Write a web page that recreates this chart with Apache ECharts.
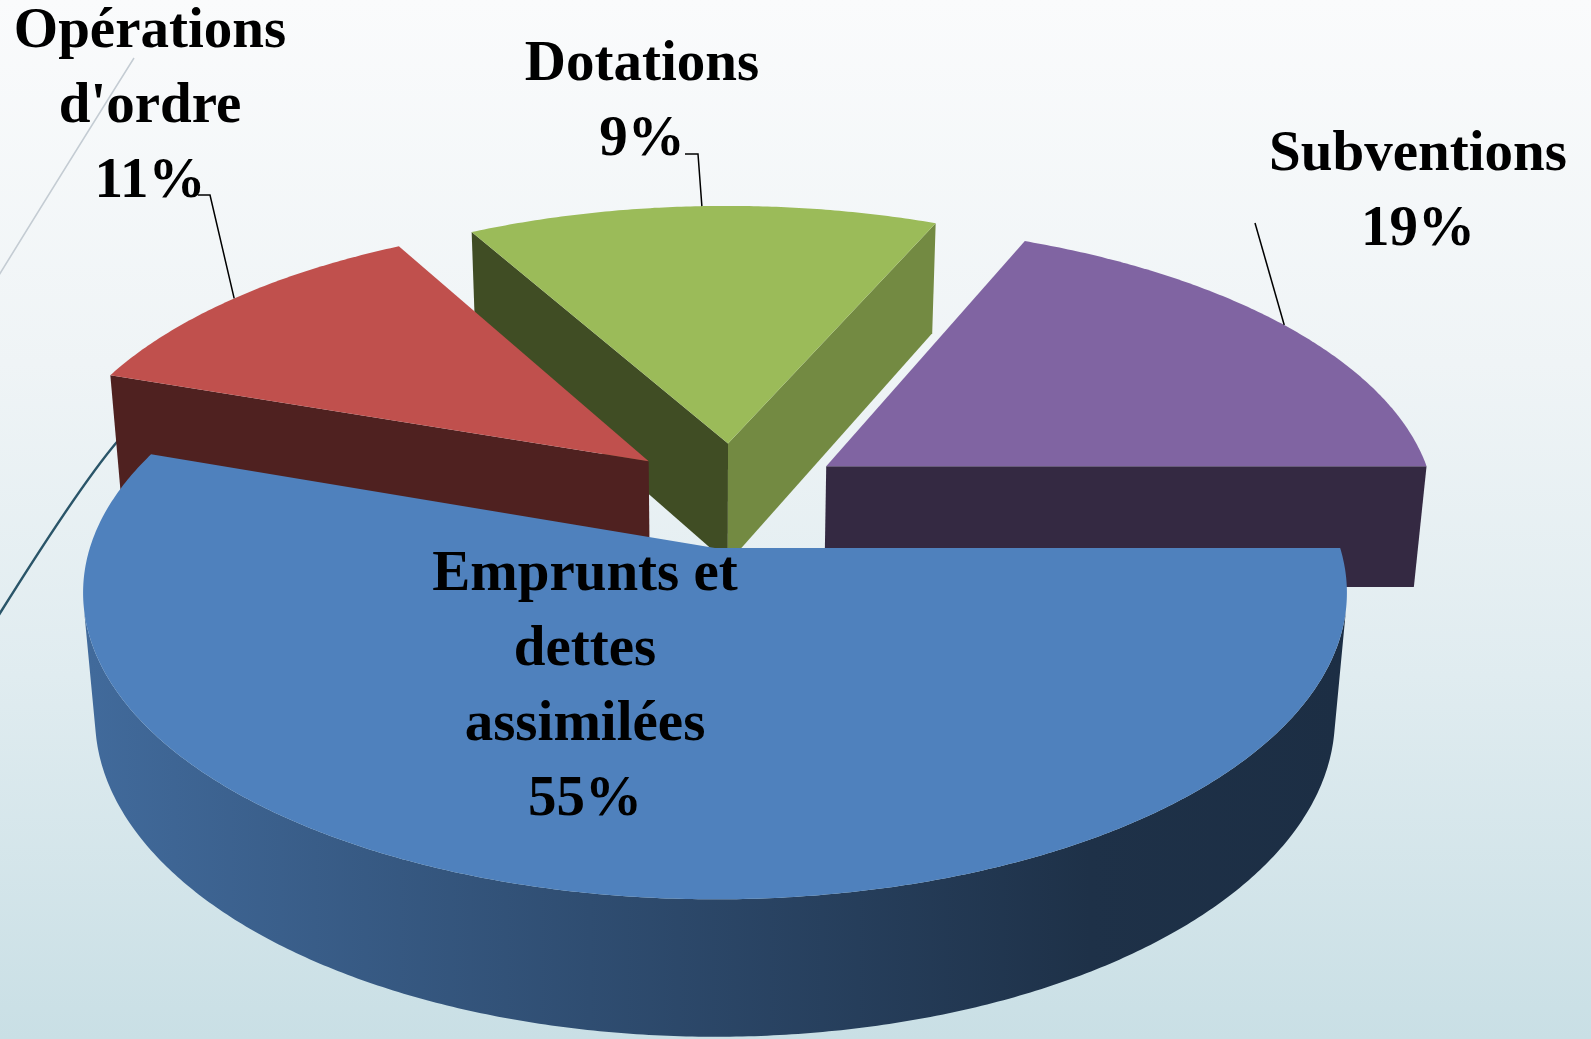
<!DOCTYPE html>
<html>
<head>
<meta charset="utf-8">
<script src="https://cdn.jsdelivr.net/npm/echarts@6/dist/echarts.min.js"></script>
<style>
  html, body { margin: 0; padding: 0; }
  #chart {
    width: 1591px;
    height: 1039px;
    background: linear-gradient(to bottom, #fafbfc 0%, #eff4f6 35%, #e0ecf0 65%, #c9dfe5 100%);
  }
</style>
</head>
<body>
<div id="chart"></div>
<script>
// slices, in drawing order (clockwise from 3 o'clock)
const names = ['Emprunts et\ndettes\nassimilées', "Opérations\nd'ordre", 'Dotations', 'Subventions'];
const percentText = ['55%', '11%', '9%', '19%'];
// wedge sizes as drawn in the picture (the printed 9% is smaller than its wedge)
const sliceShares = [55.3, 11.7, 14.5, 18.5];
const colors = ['#4f81bd', '#c0504d', '#9bbb59', '#8064a2'];

// label boxes: centre of the text block, and start of the leader line
const labelLayout = [
  { x: 585, y: 688, leader: null },
  { x: 150, y: 107, leader: [[198, 195], [210, 195]] },
  { x: 642, y: 103, leader: [[685, 154], [698, 154]] },
  { x: 1418, y: 193, leader: [[1255, 223]] }
];

// fake 3d camera: distance, tilt, focal lengths, screen centre, thickness, explode
const view = { L: 6, tilt: 29 * Math.PI / 180, Fx: 3751, Fy: 3714, cx: 715, cy: 548, height: 0.234, explode: 0.185 };

const total = sliceShares.reduce((a, b) => a + b, 0);
const slices = [];
let acc = 0;
sliceShares.forEach((v) => {
  const a0 = acc / total * 2 * Math.PI;
  acc += v;
  const a1 = acc / total * 2 * Math.PI;
  const mid = (a0 + a1) / 2;
  slices.push({ a0, a1, mid, ox: view.explode * Math.cos(mid), oz: view.explode * Math.sin(mid) });
});

// camera aims at the centre of the first (biggest) slice
const target = { x: slices[0].ox, z: slices[0].oz };
const sinT = Math.sin(view.tilt), cosT = Math.cos(view.tilt);
const camY = view.L * sinT, camZ = view.L * cosT;
const camPos = { x: target.x, z: target.z + camZ };

function project(X, Y, Z) {
  const vx = X - target.x, vy = Y - camY, vz = Z - target.z - camZ;
  const depth = -vy * sinT - vz * cosT;
  const up = vy * cosT - vz * sinT;
  return [view.cx + view.Fx * vx / depth, view.cy - view.Fy * up / depth];
}

function shade(hex, f) {
  const n = parseInt(hex.slice(1), 16);
  const r = (n >> 16) & 255, g = (n >> 8) & 255, b = n & 255;
  return 'rgb(' + Math.round(r * f) + ',' + Math.round(g * f) + ',' + Math.round(b * f) + ')';
}

// far slices are painted first
const order = slices
  .map((s, i) => ({ i, d: Math.hypot(camPos.x - s.ox, camPos.z - s.oz) }))
  .sort((a, b) => b.d - a.d);
const rank = [];
order.forEach((o, k) => { rank[o.i] = k; });

function renderItem(params, api) {
  const i = params.dataIndex;
  const s = slices[i];
  const base = rank[i] * 10;
  const H = view.height;
  const children = [];
  const pt = (a, r, y) => project(s.ox + r * Math.cos(a), y, s.oz + r * Math.sin(a));
  const faces = (nx, nz, px, pz) => nx * (camPos.x - px) + nz * (camPos.z - pz) > 0;

  // straight walls
  [[s.a0, -1], [s.a1, 1]].forEach(([a, side]) => {
    const nx = side < 0 ? Math.sin(a) : -Math.sin(a);
    const nz = side < 0 ? -Math.cos(a) : Math.cos(a);
    if (!faces(nx, nz, s.ox + 0.5 * Math.cos(a), s.oz + 0.5 * Math.sin(a))) return;
    children.push({
      type: 'polygon',
      shape: { points: [pt(a, 0, 0), pt(a, 1, 0), pt(a, 1, -H), pt(a, 0, -H)] },
      style: { fill: shade(colors[i], nx > 0.5 ? 0.74 : 0.41) },
      z2: base + 1
    });
  });

  // curved outer wall, only the parts facing the camera
  const n = Math.max(2, Math.ceil((s.a1 - s.a0) / (Math.PI / 360)));
  const angs = [];
  for (let k = 0; k <= n; k++) angs.push(s.a0 + (s.a1 - s.a0) * k / n);
  const runs = [];
  let run = null;
  for (let k = 0; k < n; k++) {
    const am = (angs[k] + angs[k + 1]) / 2;
    const vis = faces(Math.cos(am), Math.sin(am), s.ox + Math.cos(am), s.oz + Math.sin(am));
    if (vis) {
      if (!run) { run = [angs[k]]; runs.push(run); }
      run.push(angs[k + 1]);
    } else {
      run = null;
    }
  }
  const xl = pt(Math.PI, 1, 0)[0], xr = pt(0, 1, 0)[0];
  runs.forEach((r) => {
    const pts = r.map((a) => pt(a, 1, 0)).concat(r.slice().reverse().map((a) => pt(a, 1, -H)));
    children.push({
      type: 'polygon',
      shape: { points: pts },
      style: {
        fill: new echarts.graphic.LinearGradient(xl, 0, xr, 0, [
          { offset: 0, color: shade(colors[i], 0.82) },
          { offset: 0.4, color: shade(colors[i], 0.6) },
          { offset: 0.8, color: shade(colors[i], 0.38) },
          { offset: 1, color: shade(colors[i], 0.36) }
        ], true)
      },
      z2: base + 2
    });
  });

  // top face
  children.push({
    type: 'polygon',
    shape: { points: [pt(0, 0, 0)].concat(angs.map((a) => pt(a, 1, 0))) },
    style: { fill: colors[i] },
    z2: base + 5
  });

  // label and leader
  const lay = labelLayout[i];
  if (lay.leader) {
    children.push({
      type: 'polyline',
      shape: { points: lay.leader.concat([pt(s.mid, 1, 0)]) },
      style: { stroke: '#000', lineWidth: 1.5, fill: null },
      z2: 200
    });
  }
  children.push({
    type: 'text',
    style: {
      text: names[i] + '\n' + percentText[i],
      x: lay.x,
      y: lay.y,
      fill: '#000',
      font: 'bold 57px "Liberation Serif"',
      lineHeight: 75,
      align: 'center',
      verticalAlign: 'middle'
    },
    z2: 210
  });

  return { type: 'group', children };
}

const chart = echarts.init(document.getElementById('chart'));
chart.setOption({
  animation: false,
  graphic: [
    {
      type: 'bezierCurve',
      shape: { x1: 134, y1: 58, x2: -4, y2: 280, cpx1: 70, cpy1: 160 },
      style: { stroke: '#c4ccd3', lineWidth: 1.5, fill: null },
      z: 0
    },
    {
      type: 'bezierCurve',
      shape: { x1: 123, y1: 435, x2: -3, y2: 618, cpx1: 85, cpy1: 477 },
      style: { stroke: '#2a5569', lineWidth: 2.5, fill: null },
      z: 0
    }
  ],
  series: [
    {
      type: 'custom',
      coordinateSystem: 'none',
      silent: true,
      z: 2,
      renderItem: renderItem,
      data: sliceShares.map((v, i) => ({ name: names[i], value: v }))
    }
  ]
});
</script>
</body>
</html>
